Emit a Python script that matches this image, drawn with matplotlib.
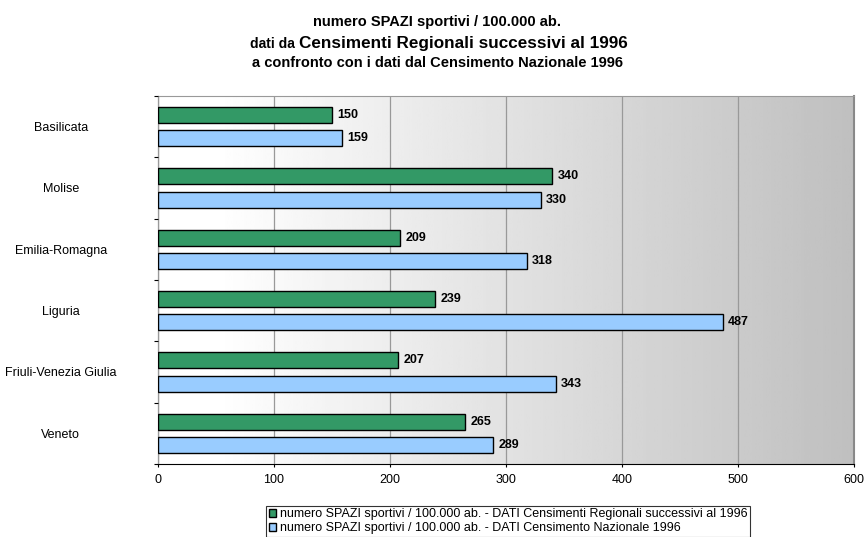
import numpy as np
import matplotlib.pyplot as plt

plt.rcParams['font.family'] = ['Liberation Sans', 'DejaVu Sans']

# dati
regioni = ['Basilicata', 'Molise', 'Emilia-Romagna', 'Liguria',
           'Friuli-Venezia Giulia', 'Veneto']
regionali = [150, 340, 209, 239, 207, 265]
nazionale = [159, 330, 318, 487, 343, 289]
lab_reg = 'numero SPAZI sportivi / 100.000 ab. - DATI Censimenti Regionali successivi al 1996'
lab_naz = 'numero SPAZI sportivi / 100.000 ab. - DATI Censimento Nazionale 1996'

fig = plt.figure(figsize=(8.66, 5.37), dpi=100)
ax = fig.add_axes([158/866, 1-464/537, 696/866, (464-96)/537])

# sfondo sfumato bianco -> grigio
grad = np.linspace(0, 1, 256)
grad = np.clip((grad - 0.08) / 0.92, 0, 1)
img = (1.0 - 0.25 * grad)[None, :]
ax.imshow(img, extent=[0, 600, -0.5, 5.5], aspect='auto', cmap='gray',
          vmin=0, vmax=1, zorder=0)

y = np.arange(len(regioni))
h = 0.26
off = 0.188
ax.barh(y - off, regionali, height=h, color='#339966', edgecolor='black',
        linewidth=1, label=lab_reg, zorder=3)
ax.barh(y + off, nazionale, height=h, color='#99ccff', edgecolor='black',
        linewidth=1, label=lab_naz, zorder=3)

for i in range(len(regioni)):
    ax.text(regionali[i] + 4.5, y[i] - off, str(regionali[i]), va='center',
            ha='left', fontsize=9, fontweight='bold', zorder=4)
    ax.text(nazionale[i] + 4.5, y[i] + off, str(nazionale[i]), va='center',
            ha='left', fontsize=9, fontweight='bold', zorder=4)

ax.set_xlim(0, 600)
ax.set_ylim(5.5, -0.5)
ax.set_xticks(range(0, 601, 100))
ax.xaxis.grid(True, color='#999999', linewidth=0.9, zorder=1)
ax.set_axisbelow(False)
ax.set_yticks(np.arange(-0.5, 5.6, 1))
ax.set_yticklabels([])
ax.set_yticks(y, minor=True)
ax.set_yticklabels(regioni, minor=True, fontsize=9)
for lbl in ax.get_yticklabels(minor=True):
    lbl.set_horizontalalignment('center')
ax.tick_params(axis='y', which='minor', length=0, pad=70)
ax.tick_params(axis='y', which='major', length=3, direction='out', width=0.8)
ax.tick_params(axis='x', length=2.5, direction='out', labelsize=9, pad=5, width=0.8)

ax.spines['top'].set_color('#999999')
ax.spines['right'].set_color('#888888')
ax.spines['right'].set_linewidth(1.5)
ax.spines['left'].set_color('black')
ax.spines['bottom'].set_color('black')

# titolo
fig.text(0.505, 1-22/537, 'numero SPAZI sportivi / 100.000 ab.', ha='center',
         va='center', fontsize=10.5, fontweight='bold')
fig.text(0.505, 1-63/537, 'a confronto con i dati dal Censimento Nazionale 1996',
         ha='center', va='center', fontsize=10.5, fontweight='bold')
t1 = fig.text(0, 0, 'dati da ', ha='left', va='baseline',
              fontsize=10, fontweight='bold')
t2 = fig.text(0, 0, 'Censimenti Regionali successivi al 1996',
              ha='left', va='baseline', fontsize=12.3, fontweight='bold')
fig.canvas.draw()
r = fig.canvas.get_renderer()
w1 = t1.get_window_extent(r).width / fig.bbox.width
w2 = t2.get_window_extent(r).width / fig.bbox.width
x0 = 0.507 - (w1 + w2) / 2
t1.set_position((x0, 1-48/537))
t2.set_position((x0 + w1, 1-48/537))

leg = fig.legend(loc='upper center', bbox_to_anchor=(508/866, 1-506/537),
                 fontsize=9, frameon=True, fancybox=False, ncol=1,
                 handlelength=0.6, handleheight=0.6, handletextpad=0.3,
                 borderpad=0.2, labelspacing=0.12, borderaxespad=0)
leg.get_frame().set_edgecolor('black')
leg.get_frame().set_linewidth(0.8)

fig.savefig('out.png', dpi=100)
